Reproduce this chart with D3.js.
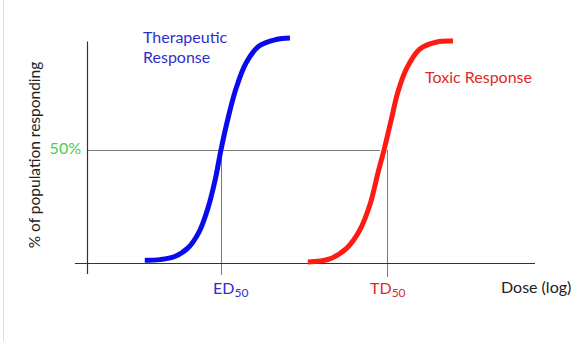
<!DOCTYPE html>
<html>
<head>
<meta charset="utf-8">
<script src="https://cdn.jsdelivr.net/npm/d3@7"></script>
<style>
  html, body { margin: 0; padding: 0; background: #fff; }
  svg { display: block; }
  text { font-family: Lato, "Open Sans", sans-serif; }
</style>
</head>
<body>
<script>
// Dose axis in log units (arbitrary), response in % of population
const therapeuticDose = [1.29, 1.63, 1.96, 2.25, 2.50, 2.70, 2.86, 2.99, 3.15, 3.33, 3.55, 3.84, 4.22, 4.53];
const therapeuticPct  = [1.2, 1.5, 2.9, 6.6, 13.7, 24.3, 36.7, 50, 64.2, 77.4, 88.5, 96.0, 98.9, 99.6];
const toxicDose = [4.93, 5.42, 5.80, 6.09, 6.32, 6.50, 6.63, 6.79, 6.94, 7.14, 7.43, 7.81, 8.17];
const toxicPct  = [0.4, 1.8, 6.6, 14.6, 26.1, 40.3, 50, 63.3, 75.7, 86.3, 94.7, 97.8, 98.2];
const ED50 = 2.99;
const TD50 = 6.7;
const midLevel = 50;
const midLabel = "50%";
const seriesNames = ["Therapeutic", "Response", "Toxic Response"];

const W = 583, H = 341;
const svg = d3.select("body").append("svg").attr("width", W).attr("height", H);

const x = d3.scaleLinear().domain([0, 10]).range([87, 535]);
const y = d3.scaleLinear().domain([0, 100]).range([263, 37]);

// faint left border
svg.append("line").attr("x1", 3.5).attr("x2", 3.5).attr("y1", 0).attr("y2", H)
  .attr("stroke", "#dcdcdc").attr("stroke-width", 1);

// reference lines
svg.append("line")
  .attr("x1", x(0)).attr("x2", x(6.54))
  .attr("y1", Math.round(y(midLevel)) + 0.5).attr("y2", Math.round(y(midLevel)) + 0.5)
  .attr("stroke", "#7a7a7a").attr("stroke-width", 1);
svg.append("line")
  .attr("x1", Math.round(x(ED50)) + 0.5).attr("x2", Math.round(x(ED50)) + 0.5)
  .attr("y1", y(midLevel)).attr("y2", 275)
  .attr("stroke", "#7a7a7a").attr("stroke-width", 1);
svg.append("line")
  .attr("x1", Math.round(x(TD50)) + 0.5).attr("x2", Math.round(x(TD50)) + 0.5)
  .attr("y1", y(midLevel)).attr("y2", 277)
  .attr("stroke", "#7a7a7a").attr("stroke-width", 1);

// axes (no ticks)
svg.append("line").attr("x1", x(0) + 0.5).attr("x2", x(0) + 0.5)
  .attr("y1", y(98)).attr("y2", 274).attr("stroke", "#333").attr("stroke-width", 1.2);
svg.append("line").attr("x1", x(-0.27)).attr("x2", x(10))
  .attr("y1", y(0) + 0.5).attr("y2", y(0) + 0.5).attr("stroke", "#333").attr("stroke-width", 1.2);

const line = d3.line().x(d => x(d[0])).y(d => y(d[1])).curve(d3.curveCatmullRom.alpha(0.5));

svg.append("path")
  .datum(therapeuticDose.map((d, i) => [d, therapeuticPct[i]]))
  .attr("d", line).attr("fill", "none").attr("stroke", "#0a0aee").attr("stroke-width", 5);
svg.append("path")
  .datum(toxicDose.map((d, i) => [d, toxicPct[i]]))
  .attr("d", line).attr("fill", "none").attr("stroke", "#ff1a12").attr("stroke-width", 5);

// labels
const fs = 16;
svg.append("text").attr("x", 143).attr("y", 43).attr("fill", "#2f2fcf")
  .attr("font-size", fs).text(seriesNames[0]);
svg.append("text").attr("x", 143).attr("y", 63).attr("fill", "#2f2fcf")
  .attr("font-size", fs).text(seriesNames[1]);
svg.append("text").attr("x", 425).attr("y", 83).attr("fill", "#e02a2a")
  .attr("font-size", fs).text(seriesNames[2]);

svg.append("text").attr("x", 81).attr("y", 154).attr("text-anchor", "end")
  .attr("fill", "#4ccc4c").attr("font-size", fs).text(midLabel);

function subLabel(xPos, main, sub, color) {
  const t = svg.append("text").attr("x", xPos).attr("y", 294).attr("fill", color)
    .attr("font-size", fs);
  t.append("tspan").text(main);
  t.append("tspan").attr("font-size", 12).attr("dy", 3).text(sub);
}
subLabel(213, "ED", "50", "#2f2fcf");
subLabel(370, "TD", "50", "#e02a2a");

svg.append("text").attr("x", 501).attr("y", 293).attr("fill", "#222")
  .attr("font-size", fs).text("Dose (log)");

svg.append("text")
  .attr("transform", "translate(40,155) rotate(-90)")
  .attr("text-anchor", "middle").attr("fill", "#222").attr("font-size", 15.5)
  .text("% of population responding");
</script>
</body>
</html>
